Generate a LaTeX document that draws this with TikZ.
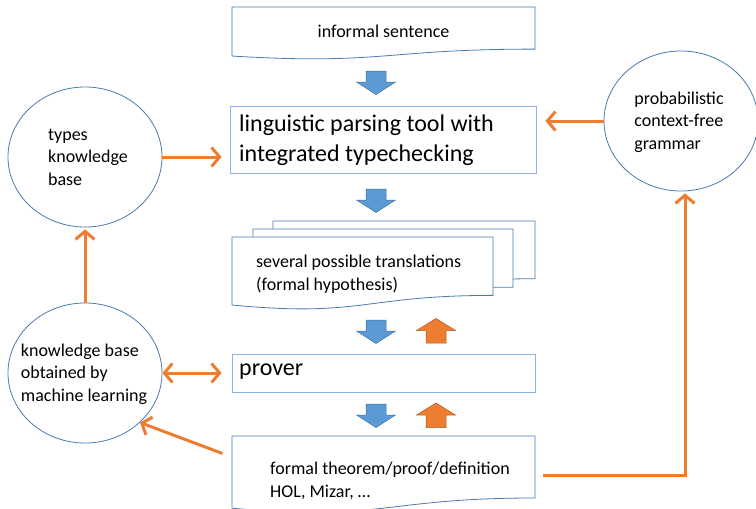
\documentclass[tikz,border=0pt]{standalone}
\usepackage{fontspec}
\setmainfont{Carlito}
\usetikzlibrary{arrows.meta,shapes.geometric}

\definecolor{boxline}{HTML}{8EB4E3}
\definecolor{docline}{HTML}{4A7AAE}
\definecolor{circline}{HTML}{4A7AAE}
\definecolor{flowblue}{HTML}{5B9BD5}
\definecolor{flowblueline}{HTML}{41719C}
\definecolor{floworange}{HTML}{ED7D31}
\definecolor{floworangeline}{HTML}{AE5A21}

% document shape: top-left corner (#1,#2), width #3, height #4
\newcommand\docpath[4]{%
  (#1,#2) -- ++(#3,0) -- ++(0,0.802*#4)
  .. controls ({#1+0.5*#3},{#2+0.802*#4}) and ({#1+0.5*#3},{#2+1.1075*#4}) ..
  (#1,{#2+0.934*#4}) -- cycle}

% block arrows: centre x #1, top y #2
\newcommand\blockdown[2]{%
  \draw[blockblue] (#1-10,#2) -- (#1+10,#2) -- (#1+10,#2+11) -- (#1+19.5,#2+11)
    -- (#1,#2+23.5) -- (#1-19.5,#2+11) -- (#1-10,#2+11) -- cycle;}
\newcommand\blockup[2]{%
  \draw[blockorange] (#1,#2) -- (#1+19.5,#2+12) -- (#1+10,#2+12) -- (#1+10,#2+24.5)
    -- (#1-10,#2+24.5) -- (#1-10,#2+12) -- (#1-19.5,#2+12) -- cycle;}

\tikzset{
  smalltext/.style={font=\fontsize{18}{22.5}\selectfont, inner sep=0pt, align=left},
  bigtext/.style={font=\fontsize{24}{30}\selectfont, inner sep=0pt, align=left},
  boxshape/.style={draw=boxline, line width=0.9pt, rectangle, inner sep=0pt},
  docshape/.style={draw=docline, line width=0.8pt, fill=white},
  circ/.style={draw=circline, line width=0.8pt, ellipse, inner sep=0pt,
    minimum width=154pt, minimum height=140pt},
  blockblue/.style={fill=flowblue, draw=flowblueline, line width=0.5pt},
  blockorange/.style={fill=floworange, draw=floworangeline, line width=0.5pt},
  oarrow/.style={draw=floworange, line width=3pt,
    >={Straight Barb[length=8pt,width=19pt,line width=3pt]}, ->},
}

\begin{document}
\begin{tikzpicture}[x=1pt, y=-1pt]
\useasboundingbox (0,0) rectangle (756,509);

% input sentence
\draw[docshape] \docpath{232}{7}{303}{52.5};
\node[smalltext] (informal) at (383.5,31) {informal sentence};

% parser
\node[boxshape, minimum width=306pt, minimum height=67pt] (parse) at (383,139.5) {};
\node[bigtext, anchor=west] (parsetext) at (239,140)
  {linguistic parsing tool with\\integrated typechecking};

% stack of candidate translations
\draw[docshape] \docpath{273}{221}{262}{72};
\draw[docshape] \docpath{253}{229}{260}{72.5};
\draw[docshape] \docpath{232}{237}{261}{72.8};
\node[smalltext, anchor=west] (transl) at (256,274)
  {several possible translations\\(formal hypothesis)};

% prover
\node[boxshape, minimum width=303pt, minimum height=38pt] (prover) at (383.5,373) {};
\node[bigtext, anchor=west] (provertext) at (239,372) {prover};

% formal output
\draw[docshape] \docpath{232}{436}{303}{77.3};
\node[inner sep=0pt, minimum width=303pt, minimum height=40pt] (formal) at (383.5,457) {};
\node[smalltext, anchor=west] (formaltext) at (270,481)
  {formal theorem/proof/definition\\HOL, Mizar, …};
\coordinate (formalout) at (535,475);
\coordinate (turn) at (685,475);

% flow arrows
\blockdown{376}{71}
\blockdown{376}{189}
\blockdown{376}{320}
\blockup{436}{318.5}
\blockdown{376}{404}
\blockup{436}{403}

% knowledge sources
\node[circ] (types) at (85,157) {};
\node[smalltext] (typestext) at (88,157) {types\\knowledge\\base};
\node[circ] (ml) at (85,373) {};
\node[smalltext] (mltext) at (84,374) {knowledge base\\obtained by\\machine learning};
\node[circ] (pcfg) at (681,121) {};
\node[smalltext] (pcfgtext) at (679,122) {probabilistic\\context-free\\grammar};

% connectors
\draw[oarrow, shorten >=8pt] (types.east) -- (types.east -| parse.west);
\draw[oarrow, shorten >=9pt] (pcfg.west) -- (pcfg.west -| parse.east);
\draw[oarrow, shorten >=2pt] (ml.north) -- (types.south);
\draw[oarrow, <->, shorten >=10pt] (ml.east) -- (ml.east -| prover.west);
\draw[oarrow, shorten <=10pt] (formal.west) -- (ml.-42);
\draw[oarrow, shorten <=8pt, shorten >=2pt, line join=miter]
  (formalout) -- (turn) -- (turn |- pcfg.south);
\end{tikzpicture}
\end{document}
